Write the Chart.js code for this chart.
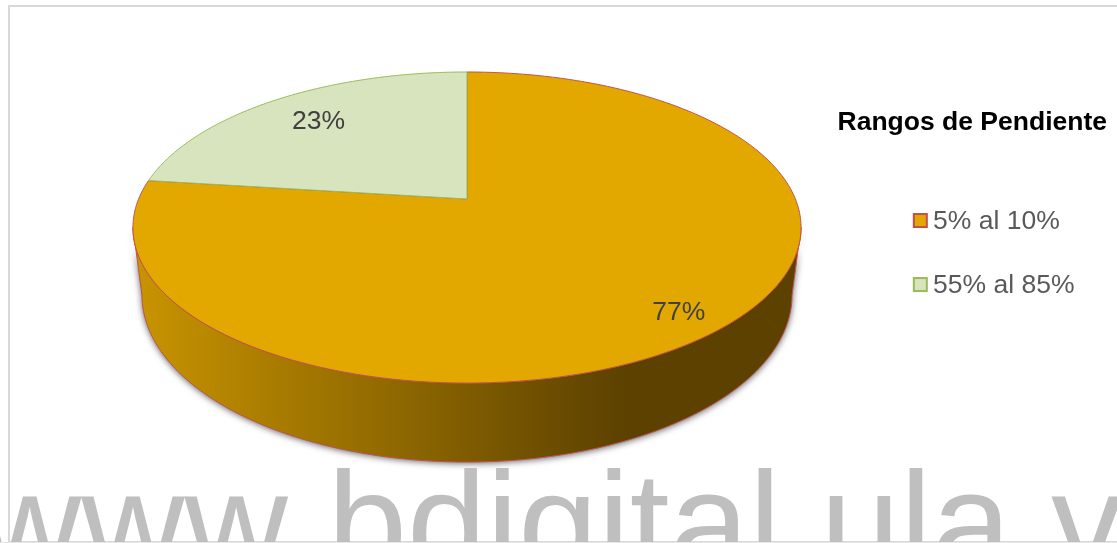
<!DOCTYPE html>
<html lang="es">
<head>
<meta charset="utf-8">
<title>Rangos de Pendiente</title>
<script src="https://cdn.jsdelivr.net/npm/chart.js@4/dist/chart.umd.min.js"></script>
<style>
    html, body { margin: 0; padding: 0; background: #fff; overflow: hidden; }
    canvas { display: block; }
</style>
</head>
<body>
<canvas id="slopeChart" width="1117" height="543"></canvas>
<script>
// Slope ranges share
const categories = ['5% al 10%', '55% al 85%'];
const seriesValues = [77, 23];
const legendTitle = 'Rangos de Pendiente';
const watermark = 'www.bdigital.ula.ve';

const fontFamily = '"Liberation Sans", Arial, sans-serif';
const sliceColors = ['#e3a800', '#d7e4bd'];
const sliceBorders = ['#c0504d', '#9bbb59'];
const labelRadius = [0.86, 0.755];
const labelDrop = [4, 0];

// Tilted disc: unit circle seen in perspective, with the near edge lower and wider
const disc = { x: 467, y: 199, rx: 328.4, ry: 150.3, tilt: 0.1833 };
const base = { scaleX: 0.973, scaleY: 1.074, fromY: 227.5, toY: 295 };

function project(angle, r = 1) {
    const u = Math.cos(angle) * r;
    const v = Math.sin(angle) * r;
    const w = 1 - disc.tilt * v;
    return { x: disc.x + disc.rx * u / w, y: disc.y + disc.ry * v / w };
}

function projectBase(angle) {
    const p = project(angle);
    return {
        x: disc.x + (p.x - disc.x) * base.scaleX,
        y: base.toY + (p.y - base.fromY) * base.scaleY
    };
}

function anglesBetween(start, end) {
    const steps = Math.max(2, Math.ceil((end - start) / 0.01));
    const list = [];
    for (let i = 0; i <= steps; i++) {
        list.push(start + (end - start) * i / steps);
    }
    return list;
}

// Side wall below the front part of the first slice
function drawWall(ctx, arc) {
    const from = Math.max(arc.startAngle, Math.asin(disc.tilt));
    const to = Math.min(arc.endAngle, Math.PI - Math.asin(disc.tilt));
    const gradient = ctx.createLinearGradient(135, 0, 625, 0);
    gradient.addColorStop(0, '#c89400');
    gradient.addColorStop(1, '#5c4100');

    ctx.save();
    ctx.beginPath();
    anglesBetween(from, to).forEach((a) => {
        const p = project(a);
        ctx.lineTo(p.x, p.y);
    });
    anglesBetween(from, to).reverse().forEach((a) => {
        const p = projectBase(a);
        ctx.lineTo(p.x, p.y);
    });
    ctx.closePath();
    ctx.shadowColor = 'rgba(30, 30, 45, 0.75)';
    ctx.shadowBlur = 7;
    ctx.shadowOffsetY = 1;
    ctx.fillStyle = gradient;
    ctx.fill();
    ctx.shadowColor = 'transparent';
    ctx.strokeStyle = arc.options.borderColor;
    ctx.lineWidth = arc.options.borderWidth;
    ctx.stroke();
    ctx.restore();
}

function drawSlice(ctx, arc) {
    ctx.save();
    ctx.beginPath();
    ctx.moveTo(disc.x, disc.y);
    anglesBetween(arc.startAngle, arc.endAngle).forEach((a) => {
        const p = project(a);
        ctx.lineTo(p.x, p.y);
    });
    ctx.closePath();
    ctx.fillStyle = arc.options.backgroundColor;
    ctx.fill();
    ctx.strokeStyle = arc.options.borderColor;
    ctx.lineWidth = arc.options.borderWidth;
    ctx.stroke();
    ctx.restore();
}

const tiltedPie = {
    id: 'tiltedPie',
    beforeDraw(chart) {
        const ctx = chart.ctx;
        ctx.save();
        ctx.strokeStyle = '#d9d9d9';
        ctx.lineWidth = 2;
        ctx.strokeRect(9, 6, chart.width + 20, 536);
        ctx.restore();
    },
    afterLayout(chart) {
        // heading runs further right than the legend entries
        chart.titleBlock.right = 1107;
    },
    beforeDatasetDraw(chart, args) {
        const ctx = chart.ctx;
        const arcs = args.meta.data;
        drawWall(ctx, arcs[0]);
        arcs.forEach((arc) => drawSlice(ctx, arc));
        return false;
    },
    afterDatasetsDraw(chart) {
        const ctx = chart.ctx;
        ctx.save();
        ctx.font = '26.5px ' + fontFamily;
        ctx.fillStyle = '#404040';
        ctx.textAlign = 'center';
        ctx.textBaseline = 'middle';
        chart.getDatasetMeta(0).data.forEach((arc, i) => {
            const mid = (arc.startAngle + arc.endAngle) / 2;
            const p = project(mid, labelRadius[i]);
            ctx.fillText(seriesValues[i] + '%', p.x, p.y + labelDrop[i]);
        });
        ctx.restore();
    },
    afterDraw(chart) {
        const ctx = chart.ctx;
        ctx.save();
        // legend swatches are wider than the gap the legend leaves for them
        chart.legend.legendHitBoxes.forEach((hit, i) => {
            const y = hit.top + hit.height / 2 - 7.5;
            ctx.fillStyle = sliceColors[i];
            ctx.strokeStyle = sliceBorders[i];
            ctx.lineWidth = 2;
            ctx.fillRect(hit.left, y, 13, 13);
            ctx.strokeRect(hit.left, y, 13, 13);
        });
        ctx.font = '143px ' + fontFamily;
        ctx.fontKerning = 'none';
        ctx.fillStyle = '#bfbfbf';
        ctx.textBaseline = 'alphabetic';
        ctx.fillText(watermark, -22, 572);
        ctx.fillStyle = '#e6e6e6';
        ctx.fillRect(0, 542, chart.width, 1);
        ctx.restore();
    }
};

new Chart(document.getElementById('slopeChart'), {
    type: 'pie',
    data: {
        labels: categories,
        datasets: [{
            data: seriesValues,
            backgroundColor: sliceColors,
            borderColor: sliceBorders,
            borderWidth: 1
        }]
    },
    options: {
        responsive: false,
        animation: false,
        events: [],
        layout: { padding: { right: 32.5 } },
        plugins: {
            tooltip: { enabled: false },
            title: {
                display: true,
                text: legendTitle,
                align: 'end',
                color: '#000',
                font: { family: fontFamily, size: 26.5, weight: 'bold', lineHeight: 1.2 },
                padding: { top: 107, bottom: 32 }
            },
            legend: {
                position: 'right',
                align: 'start',
                fullSize: false,
                labels: {
                    boxWidth: 6,
                    boxHeight: 8,
                    padding: 37.5,
                    color: '#595959',
                    font: { family: fontFamily, size: 26.5 }
                }
            }
        }
    },
    plugins: [tiltedPie]
});
</script>
</body>
</html>
